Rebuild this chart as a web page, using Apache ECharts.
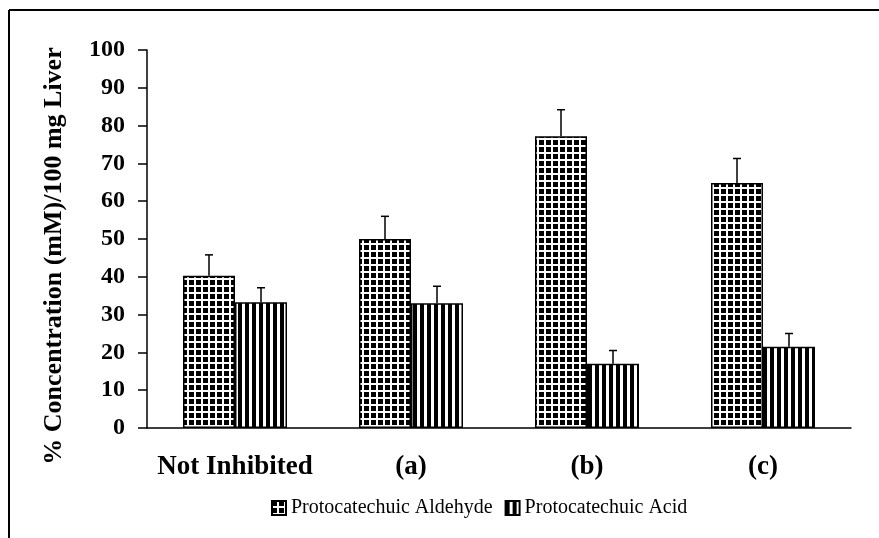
<!DOCTYPE html>
<html>
<head>
<meta charset="utf-8">
<script src="https://cdn.jsdelivr.net/npm/echarts@6/dist/echarts.min.js"></script>
<style>
html, body { margin: 0; padding: 0; background: #fff; }
#main { width: 879px; height: 538px; }
</style>
</head>
<body>
<div id="main"></div>
<script>
var categories = ['Not Inhibited', '(a)', '(b)', '(c)'];
var aldehyde = [40.3, 50, 77.2, 64.8];
var aldehydeErr = [5.5, 6, 7, 6.5];
var acid = [33.3, 33, 17, 21.5];
var acidErr = [3.8, 4.5, 3.5, 3.5];
var seriesNames = ['Protocatechuic Aldehyde', 'Protocatechuic Acid'];
var yTitle = '% Concentration (mM)/100 mg Liver';

// black squares with white grid lines
function gridPattern() {
    var c = document.createElement('canvas');
    c.width = 7; c.height = 7;
    var ctx = c.getContext('2d');
    ctx.fillStyle = '#fff';
    ctx.fillRect(0, 0, 7, 7);
    ctx.fillStyle = '#000';
    ctx.fillRect(0, 0, 5, 5);
    return c;
}
// vertical stripes
function stripePattern() {
    var c = document.createElement('canvas');
    c.width = 7; c.height = 7;
    var ctx = c.getContext('2d');
    ctx.fillStyle = '#fff';
    ctx.fillRect(0, 0, 7, 7);
    ctx.fillStyle = '#000';
    ctx.fillRect(0, 0, 4, 7);
    return c;
}

var myChart = echarts.init(document.getElementById('main'));
var font = 'Liberation Serif';
var barW = 52;

function errSeries(vals, errs, offset) {
    var data = vals.map(function (v, i) { return [i, v, v + errs[i]]; });
    return {
        type: 'custom',
        silent: true,
        z: 5,
        data: data,
        renderItem: function (params, api) {
            var p0 = api.coord([api.value(0), api.value(1)]);
            var p1 = api.coord([api.value(0), api.value(2)]);
            var x = p0[0] + offset;
            return {
                type: 'group',
                children: [
                    { type: 'line', shape: { x1: x, y1: p0[1], x2: x, y2: p1[1] }, style: { stroke: '#000', lineWidth: 1.5 } },
                    { type: 'line', shape: { x1: x - 4, y1: p1[1], x2: x + 4, y2: p1[1] }, style: { stroke: '#000', lineWidth: 1.5 } }
                ]
            };
        }
    };
}

var option = {
    animation: false,
    backgroundColor: '#fff',
    grid: { left: 147, right: 28, top: 50, bottom: 110 },
    legend: {
        top: 493,
        left: 266,
        data: seriesNames,
        icon: 'rect',
        itemWidth: 14,
        itemHeight: 14,
        itemGap: 12,
        textStyle: { fontFamily: font, fontSize: 20, color: '#000' }
    },
    xAxis: {
        type: 'category',
        data: categories,
        axisLine: { lineStyle: { color: '#000', width: 1.5 } },
        axisTick: { length: 9, lineStyle: { color: '#000', width: 1.5 } },
        axisLabel: { interval: 0, margin: 26, fontFamily: font, fontWeight: 'bold', fontSize: 27, color: '#000' }
    },
    yAxis: {
        type: 'value',
        min: 0,
        max: 100,
        interval: 10,
        axisLine: { show: true, lineStyle: { color: '#000', width: 1.5 } },
        axisTick: { show: true, length: 9, lineStyle: { color: '#000', width: 1.5 } },
        splitLine: { show: false },
        axisLabel: { margin: 22, fontFamily: font, fontWeight: 'bold', fontSize: 24, color: '#000' }
    },
    series: [
        {
            name: seriesNames[0],
            type: 'bar',
            data: aldehyde,
            barWidth: barW,
            barGap: '0%',
            itemStyle: { color: { image: gridPattern(), repeat: 'repeat' }, borderColor: '#000', borderWidth: 1.5 }
        },
        {
            name: seriesNames[1],
            type: 'bar',
            data: acid,
            barWidth: barW,
            barGap: '0%',
            itemStyle: { color: { image: stripePattern(), repeat: 'repeat' }, borderColor: '#000', borderWidth: 1.5 }
        },
        errSeries(aldehyde, aldehydeErr, -barW / 2),
        errSeries(acid, acidErr, barW / 2)
    ],
    graphic: [
        { type: 'line', shape: { x1: 9, y1: 10, x2: 879, y2: 10 }, style: { stroke: '#000', lineWidth: 2 } },
        { type: 'line', shape: { x1: 9, y1: 10, x2: 9, y2: 538 }, style: { stroke: '#000', lineWidth: 2 } },
        {
            type: 'text',
            x: 54,
            y: 256,
            rotation: Math.PI / 2,
            style: {
                text: yTitle,
                fontFamily: font,
                fontWeight: 'bold',
                fontSize: 26,
                fill: '#000',
                align: 'center',
                verticalAlign: 'middle'
            }
        }
    ]
};
myChart.setOption(option);
</script>
</body>
</html>
